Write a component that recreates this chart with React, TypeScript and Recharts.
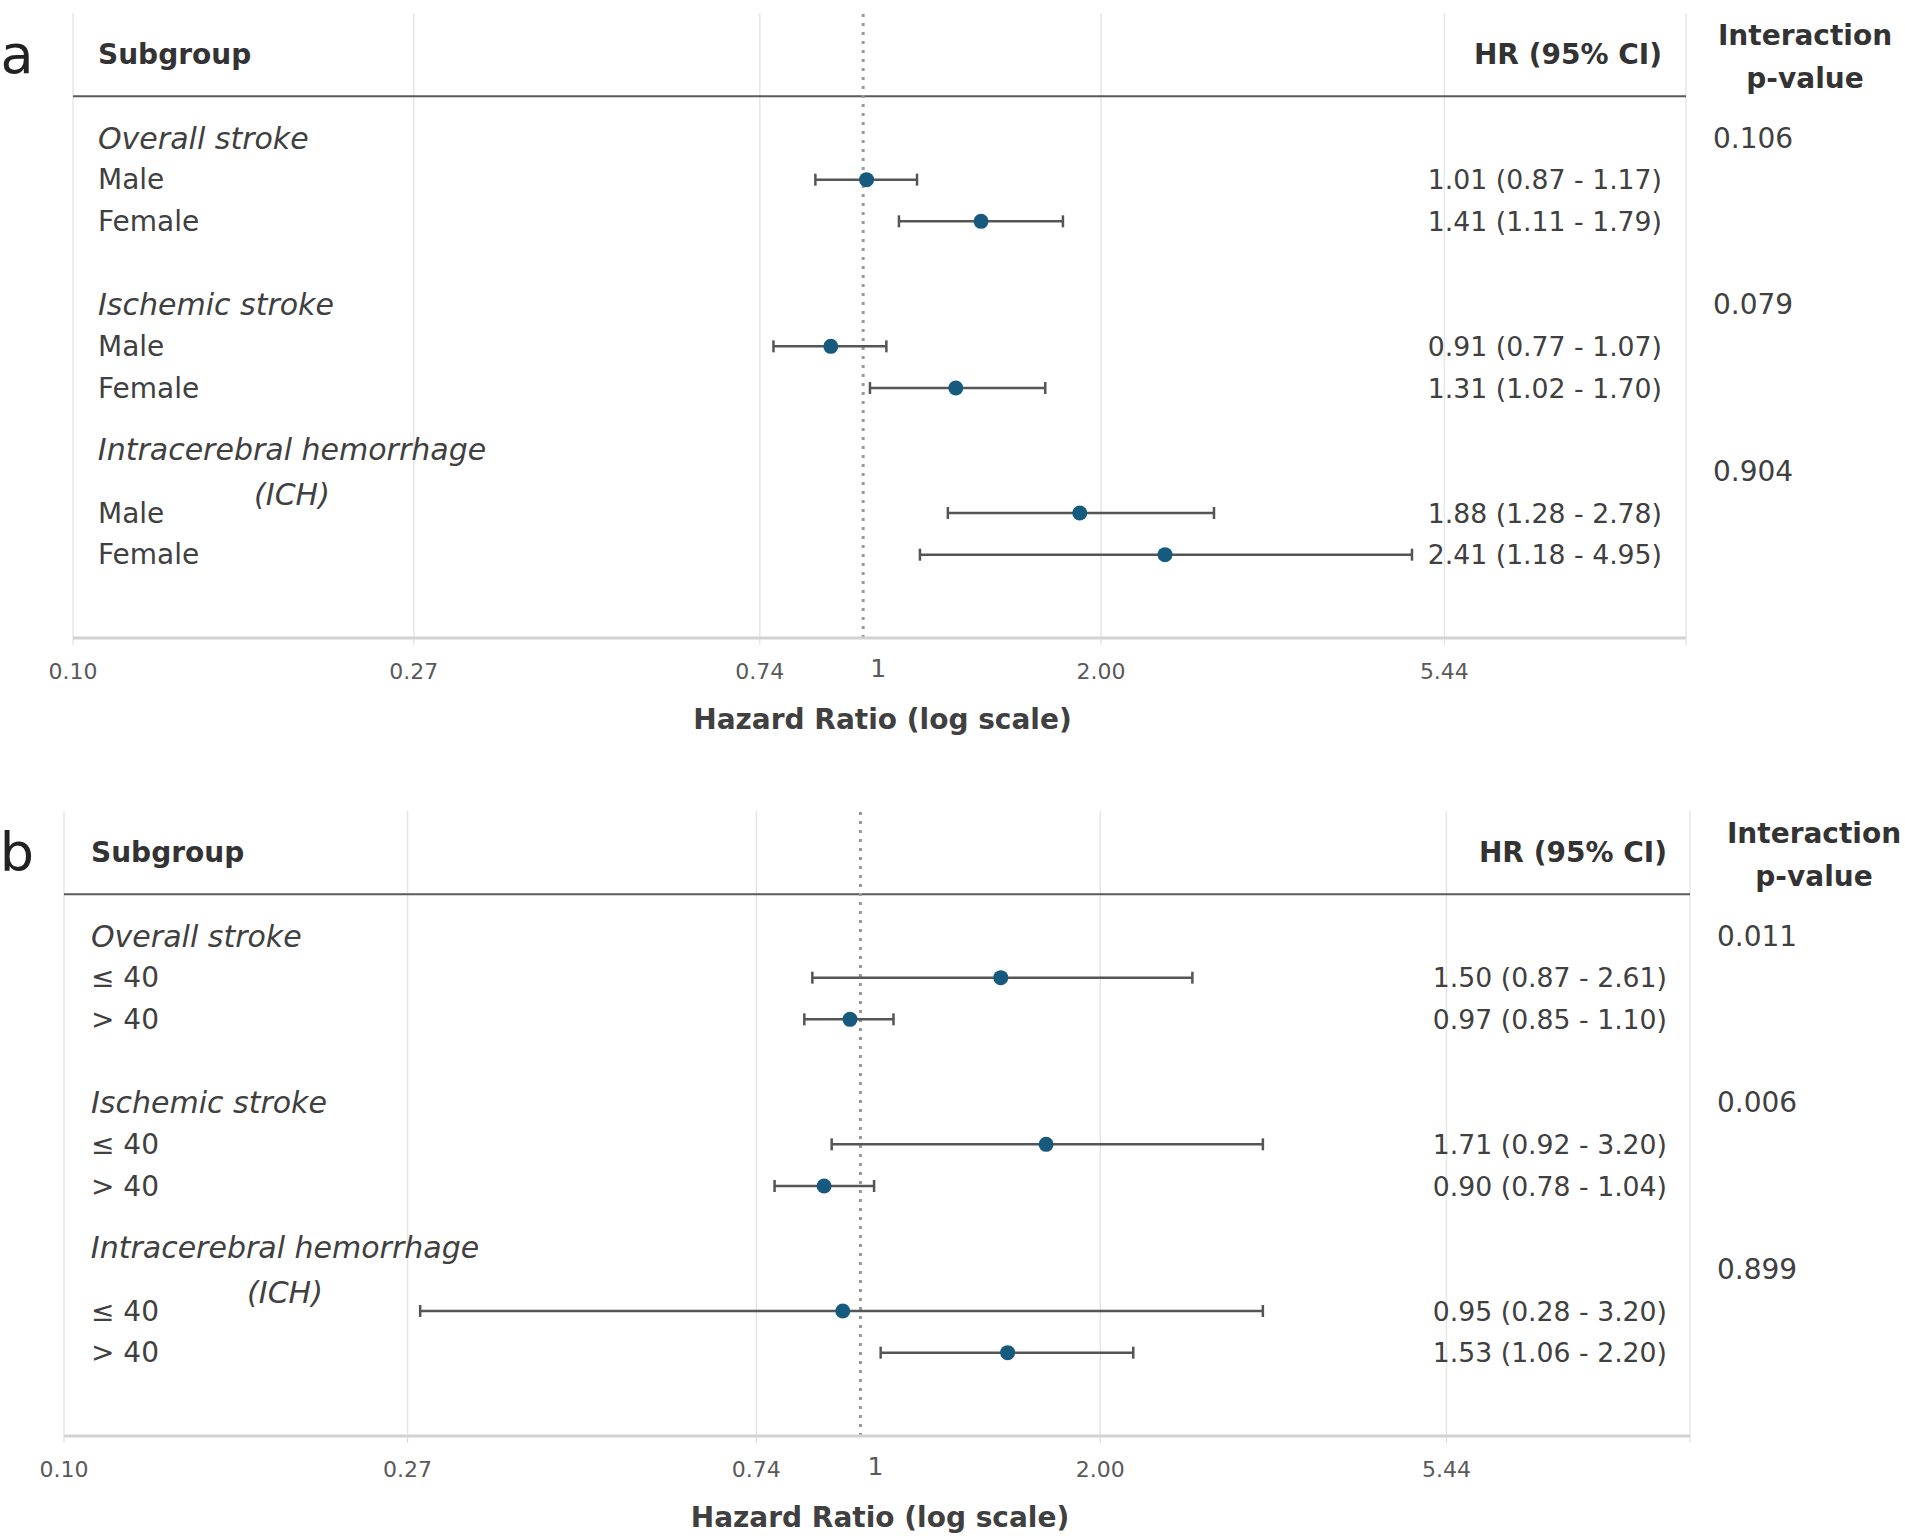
import {
  ScatterChart,
  Scatter,
  XAxis,
  YAxis,
  CartesianGrid,
  ReferenceLine,
  ErrorBar,
  Label,
} from "recharts";

const FONT = '"DejaVu Sans", Verdana, sans-serif';
const TEXT = "#404040";
const DOT = "#165b7e";

// Outcomes, each followed by its two strata
const OUTCOMES = ["Overall stroke", "Ischemic stroke", "Intracerebral hemorrhage (ICH)"];

// a: by sex
const SEX_GROUPS = ["Male", "Female"];
const SEX_HR = [1.01, 1.41, 0.91, 1.31, 1.88, 2.41];
const SEX_LOW = [0.87, 1.11, 0.77, 1.02, 1.28, 1.18];
const SEX_HIGH = [1.17, 1.79, 1.07, 1.7, 2.78, 4.95];
const SEX_P = ["0.106", "0.079", "0.904"];

// b: by age
const AGE_GROUPS = ["≤ 40", "> 40"];
const AGE_HR = [1.5, 0.97, 1.71, 0.9, 0.95, 1.53];
const AGE_LOW = [0.87, 0.85, 0.92, 0.78, 0.28, 1.06];
const AGE_HIGH = [2.61, 1.1, 3.2, 1.04, 3.2, 2.2];
const AGE_P = ["0.011", "0.006", "0.899"];

// log-scale axis ticks (the last one only closes the grid)
const X_TICKS = [0.1, 0.27, 0.74, 2.0, 5.44];
const X_MAX = 11;

type Layout = {
  left: number;
  right: number;
  height: number;
  axisHeight: number;
  labelX: number;
  hrX: number;
  pX: number;
  intX: number;
};

type Row = { kind: "head" | "title" | "item"; text: string; hrText?: string; p?: string };

const fmt = (v: number) => v.toFixed(2);

function ForestPanel(props: {
  letter: string;
  groups: string[];
  hr: number[];
  low: number[];
  high: number[];
  pValues: string[];
  layout: Layout;
}) {
  const { letter, groups, hr, low, high, pValues, layout } = props;

  const rows: Record<number, Row> = { [-2]: { kind: "head", text: "Subgroup" } };
  const points: { hr: number; row: number; err: number[] }[] = [];
  OUTCOMES.forEach((title, g) => {
    rows[g * 4] = { kind: "title", text: title, p: pValues[g] };
    groups.forEach((name, s) => {
      const i = g * groups.length + s;
      const row = g * 4 + 1 + s;
      rows[row] = {
        kind: "item",
        text: name,
        hrText: `${fmt(hr[i])} (${fmt(low[i])} - ${fmt(high[i])})`,
      };
      points.push({ hr: hr[i], row, err: [hr[i] - low[i], high[i] - hr[i]] });
    });
  });
  const rowTicks = Object.keys(rows).map(Number).sort((a, b) => a - b);

  const renderRow = (p: any) => {
    const y = p.y;
    const r = rows[p.payload.value];
    if (!r) return <g />;
    if (r.kind === "head") {
      return (
        <g fill="#333" fontFamily={FONT}>
          <text x={17} y={y} fontSize={54} textAnchor="middle" dominantBaseline="central" fill="#222">
            {letter}
          </text>
          <text x={layout.labelX} y={y} fontSize={28} fontWeight="bold" dominantBaseline="central">
            {r.text}
          </text>
          <text x={layout.hrX} y={y} fontSize={28} fontWeight="bold" textAnchor="end" dominantBaseline="central">
            HR (95% CI)
          </text>
          <text x={layout.intX} y={y - 19} fontSize={28} fontWeight="bold" textAnchor="middle" dominantBaseline="central">
            Interaction
          </text>
          <text x={layout.intX} y={y + 24} fontSize={28} fontWeight="bold" textAnchor="middle" dominantBaseline="central">
            p-value
          </text>
        </g>
      );
    }
    if (r.kind === "title") {
      const cut = r.text.indexOf(" (");
      const lines = cut > 0 ? [r.text.slice(0, cut), r.text.slice(cut + 1)] : [r.text];
      const cx = layout.labelX + 194;
      return (
        <g fill={TEXT} fontFamily={FONT} fontSize={30}>
          {lines.length === 1 ? (
            <text x={layout.labelX} y={y} fontStyle="italic" dominantBaseline="central">
              {lines[0]}
            </text>
          ) : (
            <g fontStyle="italic">
              <text x={cx} y={y - 22} textAnchor="middle" dominantBaseline="central">
                {lines[0]}
              </text>
              <text x={cx} y={y + 23} textAnchor="middle" dominantBaseline="central">
                {lines[1]}
              </text>
            </g>
          )}
          <text x={layout.pX} y={y} fontSize={28} dominantBaseline="central">
            {r.p}
          </text>
        </g>
      );
    }
    return (
      <g fill={TEXT} fontFamily={FONT} fontSize={28}>
        <text x={layout.labelX} y={y} dominantBaseline="central">
          {r.text}
        </text>
        <text x={layout.hrX} y={y} fontSize={26.7} textAnchor="end" dominantBaseline="central">
          {r.hrText}
        </text>
      </g>
    );
  };

  const axisTitle = (p: any) => {
    const vb = p.viewBox;
    return (
      <text
        x={vb.x + vb.width / 2 + 3}
        y={vb.y + 81}
        textAnchor="middle"
        dominantBaseline="central"
        fontFamily={FONT}
        fontSize={28}
        fontWeight="bold"
        fill="#404040"
      >
        Hazard Ratio (log scale)
      </text>
    );
  };

  const oneLabel = (p: any) => {
    const vb = p.viewBox;
    return (
      <text
        x={vb.x + 15}
        y={vb.y + vb.height + 30}
        textAnchor="middle"
        dominantBaseline="central"
        fontFamily={FONT}
        fontSize={25}
        fill="#595959"
      >
        1
      </text>
    );
  };

  return (
    <ScatterChart
      width={1905}
      height={layout.height}
      margin={{ top: 13, right: layout.right, bottom: 0, left: layout.left - 1 }}
    >
      <CartesianGrid horizontal={false} stroke="#e6e6e6" strokeWidth={1.5} />
      <XAxis
        type="number"
        dataKey="hr"
        scale="log"
        domain={[0.1, X_MAX]}
        allowDataOverflow
        ticks={[...X_TICKS, X_MAX]}
        interval={0}
        tickFormatter={(v: number) => (v === X_MAX ? "" : fmt(v))}
        height={layout.axisHeight}
        axisLine={{ stroke: "#d2d2d2", strokeWidth: 3 }}
        tickLine={{ stroke: "#d9d9d9" }}
        tickSize={7}
        tickMargin={18}
        tick={{ fontSize: 22, fill: "#595959", fontFamily: FONT }}
      >
        <Label content={axisTitle} />
      </XAxis>
      <YAxis
        type="number"
        dataKey="row"
        domain={[-3, 12]}
        reversed
        allowDataOverflow
        width={1}
        ticks={rowTicks}
        interval={0}
        axisLine={false}
        tickLine={false}
        tick={renderRow}
      />
      <ReferenceLine y={-1} stroke="#5a5a5a" strokeWidth={2} />
      <ReferenceLine
        x={1}
        stroke="#9a9a9a"
        strokeWidth={3}
        strokeDasharray="3 6"
        label={oneLabel}
      />
      <Scatter
        data={points}
        isAnimationActive={false}
        shape={(p: any) => <circle cx={p.cx} cy={p.cy} r={7.5} fill={DOT} />}
      >
        <ErrorBar dataKey="err" direction="x" width={6} stroke="#555" strokeWidth={2.5} />
      </Scatter>
    </ScatterChart>
  );
}

export default function App() {
  return (
    <div
      style={{
        position: "absolute",
        left: 0,
        top: 0,
        width: 1905,
        height: 1539,
        background: "#fff",
        fontFamily: FONT,
      }}
    >
      <div style={{ position: "absolute", left: 0, top: 0 }}>
        <ForestPanel
          letter="a"
          groups={SEX_GROUPS}
          hr={SEX_HR}
          low={SEX_LOW}
          high={SEX_HIGH}
          pValues={SEX_P}
          layout={{
            left: 73,
            right: 219,
            height: 798,
            axisHeight: 160,
            labelX: 98,
            hrX: 1662,
            pX: 1713,
            intX: 1805,
          }}
        />
      </div>
      <div style={{ position: "absolute", left: 0, top: 798 }}>
        <ForestPanel
          letter="b"
          groups={AGE_GROUPS}
          hr={AGE_HR}
          low={AGE_LOW}
          high={AGE_HIGH}
          pValues={AGE_P}
          layout={{
            left: 64,
            right: 215,
            height: 741,
            axisHeight: 103,
            labelX: 91,
            hrX: 1667,
            pX: 1717,
            intX: 1814,
          }}
        />
      </div>
    </div>
  );
}
